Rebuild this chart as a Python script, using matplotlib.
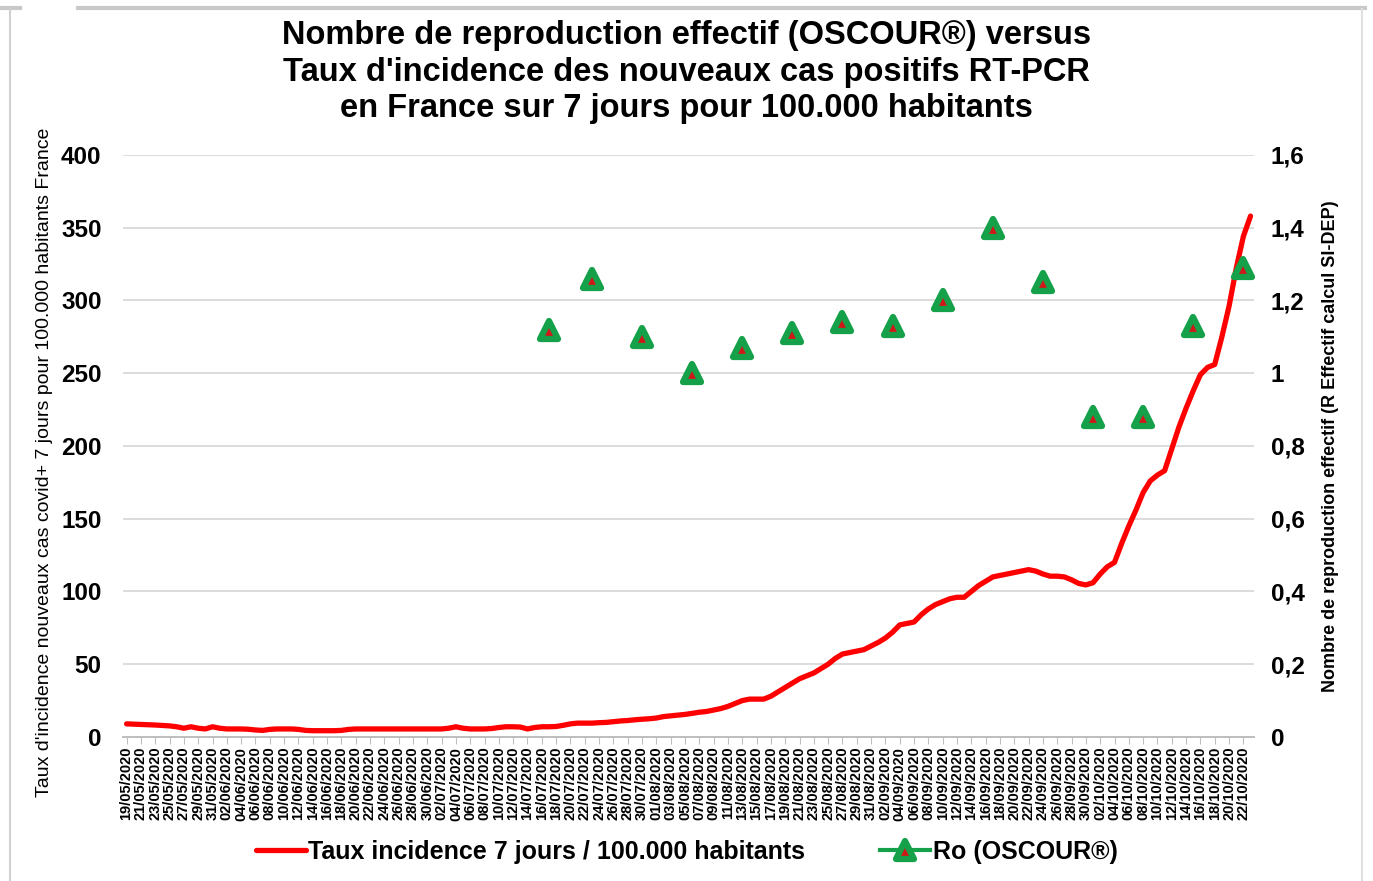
import numpy as np
import pandas as pd
import matplotlib
matplotlib.use("Agg")
import matplotlib.pyplot as plt
from matplotlib.lines import Line2D
from matplotlib.markers import MarkerStyle

plt.rcParams['font.family'] = ['Liberation Sans', 'DejaVu Sans']

# jours du 19/05/2020 au 23/10/2020
dates = pd.date_range("2020-05-19", "2020-10-23", freq="D")

# taux d'incidence 7 jours / 100.000 habitants
taux = [
    9.0, 8.8, 8.6, 8.4, 8.2, 7.9, 7.6, 7.0, 6.0, 7.0,
    6.0, 5.5, 7.0, 6.0, 5.5, 5.5, 5.5, 5.3, 4.8, 4.5,
    5.2, 5.5, 5.5, 5.5, 5.2, 4.5, 4.3, 4.3, 4.3, 4.3,
    4.5, 5.2, 5.5, 5.5, 5.5, 5.5, 5.5, 5.5, 5.5, 5.5,
    5.5, 5.5, 5.5, 5.5, 5.5, 6.0, 7.0, 6.0, 5.5, 5.5,
    5.5, 5.8, 6.5, 7.0, 7.0, 6.8, 5.5, 6.5, 7.0, 7.0,
    7.2, 8.0, 9.0, 9.5, 9.5, 9.5, 9.8, 10.0, 10.5, 11.0,
    11.3, 11.8, 12.2, 12.5, 13.0, 14.0, 14.5, 15.0, 15.5, 16.2,
    17.0, 17.5, 18.5, 19.5, 21.0, 23.0, 25.0, 26.0, 26.0, 26.0,
    28.0, 31.0, 34.0, 37.0, 40.0, 42.0, 44.0, 47.0, 50.0, 54.0,
    57.0, 58.0, 59.0, 60.0, 62.5, 65.0, 68.0, 72.0, 77.0, 78.0,
    79.0, 84.0, 88.0, 91.0, 93.0, 95.0, 96.0, 96.0, 100.0, 104.0,
    107.0, 110.0, 111.0, 112.0, 113.0, 114.0, 115.0, 114.0, 112.0, 110.5,
    110.5, 110.0, 108.0, 105.5, 104.5, 106.0, 112.0, 117.0, 120.0, 133.0,
    145.0, 156.0, 168.0, 176.0, 180.0, 183.0, 198.0, 213.0, 226.0, 238.0,
    249.0, 254.0, 256.0, 275.0, 296.0, 322.0, 344.0, 358.0,
]

# Ro (OSCOUR) hebdomadaire
ro_dates = ["2020-07-17", "2020-07-23", "2020-07-30", "2020-08-06", "2020-08-13",
            "2020-08-20", "2020-08-27", "2020-09-03", "2020-09-10", "2020-09-17",
            "2020-09-24", "2020-10-01", "2020-10-08", "2020-10-15", "2020-10-22"]
ro_values = [1.12, 1.26, 1.10, 1.00, 1.07, 1.11, 1.14, 1.13, 1.20, 1.40,
             1.25, 0.88, 0.88, 1.13, 1.29]

left_ticks = [0, 50, 100, 150, 200, 250, 300, 350, 400]
right_ticks = [0, 0.2, 0.4, 0.6, 0.8, 1.0, 1.2, 1.4, 1.6]
right_labels = ["0", "0,2", "0,4", "0,6", "0,8", "1", "1,2", "1,4", "1,6"]

x = np.arange(len(dates))
ro = pd.Series(ro_values, index=pd.to_datetime(ro_dates)).reindex(dates)

fig = plt.figure(figsize=(13.73, 8.81), dpi=100)
ax = fig.add_axes([0.0896, 0.1635, 0.8238, 0.6606])
ax2 = ax.twinx()

ax.plot(x, taux, color="#ff0000", lw=3.8, solid_capstyle="round",
        label="Taux incidence 7 jours / 100.000 habitants", zorder=3)
ax2.plot(x, ro.values, color="#14a149", lw=3,
         marker=MarkerStyle("^", joinstyle="round"), ms=13.5,
         mfc="#d01818", mec="#14a149", mew=4.5,
         label="Ro (OSCOUR®)", zorder=4)

ax.set_xlim(-0.5, len(dates) - 0.5)
ax.set_ylim(0, 400)
ax2.set_ylim(0, 1.6)
ax.set_yticks(left_ticks)
ax2.set_yticks(right_ticks)
ax2.set_yticklabels(right_labels)

ax.set_xticks(x[::2])
ax.set_xticklabels([d.strftime("%d/%m/%Y") for d in dates[::2]],
                   rotation=90, fontsize=10.5, fontweight="bold")
ax.tick_params(axis="x", length=5, color="#bfbfbf", pad=2)
ax.tick_params(axis="y", length=0, labelsize=17.5, pad=15.5)
ax2.tick_params(axis="y", length=0, labelsize=17.5, pad=12)
for lab in ax.get_yticklabels() + ax2.get_yticklabels():
    lab.set_fontweight("bold")

ax.grid(axis="y", color="#d9d9d9", lw=1.3)
ax.set_axisbelow(True)
for a in (ax, ax2):
    for s in ["top", "left", "right"]:
        a.spines[s].set_visible(False)
    a.spines["bottom"].set_color("#bfbfbf")
    a.spines["bottom"].set_linewidth(1.3)

ax.set_ylabel("Taux d'incidence nouveaux cas covid+ 7 jours pour 100.000 habitants France",
              fontsize=14)
ax.yaxis.set_label_coords(-0.062, 0.4725)
ax2.set_ylabel("Nombre de reproduction effectif (R Effectif calcul SI-DEP)",
               fontsize=13, fontweight="bold", rotation=90)
ax2.yaxis.set_label_coords(1.060, 0.50)

fig.suptitle("Nombre de reproduction effectif (OSCOUR®) versus\n"
             "Taux d'incidence des nouveaux cas positifs RT-PCR\n"
             "en France sur 7 jours pour 100.000 habitants",
             x=0.5, y=0.977, fontsize=23.5, fontweight="bold", linespacing=1.22)

h1, l1 = ax.get_legend_handles_labels()
h2, l2 = ax2.get_legend_handles_labels()
fig.legend(h1 + h2, l1 + l2, loc="center", bbox_to_anchor=(0.5, 0.033), ncol=2,
           frameon=False, prop={"size": 18, "weight": "bold"},
           handlelength=2.0, handletextpad=0.1, columnspacing=3.0)

# cadre de la capture
fig.add_artist(Line2D([0, 20 / 1373], [0.991, 0.991], color="#c8c8c8", lw=3))
fig.add_artist(Line2D([78 / 1373, 1365 / 1373], [0.991, 0.991], color="#c8c8c8", lw=3))
fig.add_artist(Line2D([10 / 1373, 10 / 1373], [0, 0.99], color="#d0d0d0", lw=1.5))
fig.add_artist(Line2D([1362 / 1373, 1362 / 1373], [0, 0.99], color="#e0e0e0", lw=1.5))

fig.savefig("out.png", dpi=100)
